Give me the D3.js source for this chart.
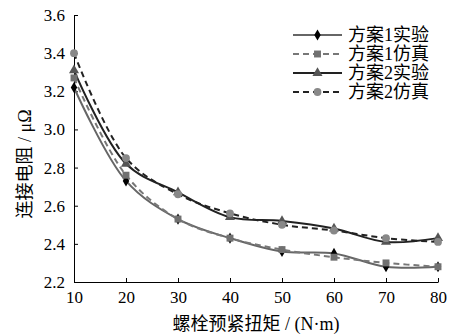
<!DOCTYPE html>
<html><head><meta charset="utf-8">
<script src="https://cdn.jsdelivr.net/npm/d3@7"></script>
<style>
body{margin:0;background:#fff;}
text{font-family:"Liberation Serif","Noto Sans CJK SC",serif;}
</style></head>
<body><svg id="c" width="475" height="334"></svg>
<script>
const xValues = [10,20,30,40,50,60,70,80];
const s1Exp = [3.22,2.73,2.53,2.43,2.36,2.35,2.28,2.28];
const s1Sim = [3.27,2.76,2.53,2.43,2.37,2.33,2.30,2.28];
const s2Exp = [3.31,2.82,2.67,2.54,2.52,2.48,2.41,2.43];
const s2Sim = [3.40,2.85,2.66,2.56,2.50,2.47,2.43,2.41];
const seriesNames = ["方案1实验","方案1仿真","方案2实验","方案2仿真"];
const yTicks = [2.2,2.4,2.6,2.8,3.0,3.2,3.4,3.6];
const xTicks = [10,20,30,40,50,60,70,80];
const yTitle = "连接电阻 / μΩ";
const xTitle = "螺栓预紧扭矩 / (N·m)";

const svg = d3.select("#c");
const L=74,R=438,T=15,B=282;
const x = d3.scaleLinear().domain([10,80]).range([L,R]);
const y = d3.scaleLinear().domain([2.2,3.6]).range([B,T]);

// axes
const ax = svg.append("g").attr("transform",`translate(0,${B})`)
  .call(d3.axisBottom(x).tickValues(xTicks).tickSizeInner(-4).tickSizeOuter(0).tickPadding(9).tickFormat(d3.format("d")));
const ay = svg.append("g").attr("transform",`translate(${L},0)`)
  .call(d3.axisLeft(y).tickValues(yTicks).tickSizeInner(-4).tickSizeOuter(0).tickPadding(9).tickFormat(d3.format(".1f")));
[ax,ay].forEach(g=>{
  g.selectAll("path").attr("stroke","#000").attr("stroke-width",1);
  g.selectAll("line").attr("stroke","#000");
  g.selectAll("text").attr("font-size",17).attr("fill","#000").attr("font-family",'"Liberation Serif",serif');
});

const styles = [
  {data:s1Exp, stroke:"#666", dash:null, marker:"diamond", mfill:"#000"},
  {data:s1Sim, stroke:"#777", dash:"6,4", marker:"square", mfill:"#707070"},
  {data:s2Exp, stroke:"#222", dash:null, marker:"triangle", mfill:"#555"},
  {data:s2Sim, stroke:"#222", dash:"6,4", marker:"circle", mfill:"#888"},
];
const symMap = {diamond:d3.symbolDiamond, square:d3.symbolSquare, triangle:d3.symbolTriangle, circle:d3.symbolCircle};
const symSize = {diamond:36, square:48, triangle:44, circle:48};

const line = d3.line().x((d,i)=>x(xValues[i])).y(d=>y(d)).curve(d3.curveCatmullRom.alpha(0.5));

styles.forEach(s=>{
  svg.append("path").attr("d",line(s.data)).attr("fill","none")
    .attr("stroke",s.stroke).attr("stroke-width",2).attr("stroke-dasharray",s.dash);
});
styles.forEach(s=>{
  svg.selectAll(null).data(s.data).enter().append("path")
    .attr("d",d3.symbol().type(symMap[s.marker]).size(symSize[s.marker]))
    .attr("transform",(d,i)=>`translate(${x(xValues[i])},${y(d)})`)
    .attr("fill",s.mfill);
});

// legend
const legY=[35,54,73,92];
styles.forEach((s,i)=>{
  const g = svg.append("g").attr("transform",`translate(0,${legY[i]})`);
  g.append("line").attr("x1",293).attr("x2",342).attr("y1",0).attr("y2",0)
   .attr("stroke",s.stroke).attr("stroke-width",2).attr("stroke-dasharray",s.dash);
  g.append("path").attr("d",d3.symbol().type(symMap[s.marker]).size(symSize[s.marker]))
   .attr("transform","translate(317.5,0)").attr("fill",s.mfill);
  g.append("text").attr("x",348).attr("y",0).attr("dy","0.35em").attr("font-size",18)
   .text(seriesNames[i]);
});

// titles
svg.append("text").attr("transform",`translate(25,164) rotate(-90)`)
  .attr("text-anchor","middle").attr("dy","0.35em").attr("font-size",18).text(yTitle);
svg.append("text").attr("x",256).attr("y",324).attr("text-anchor","middle").attr("dy","0.35em")
  .attr("font-size",18).text(xTitle);
</script></body></html>
